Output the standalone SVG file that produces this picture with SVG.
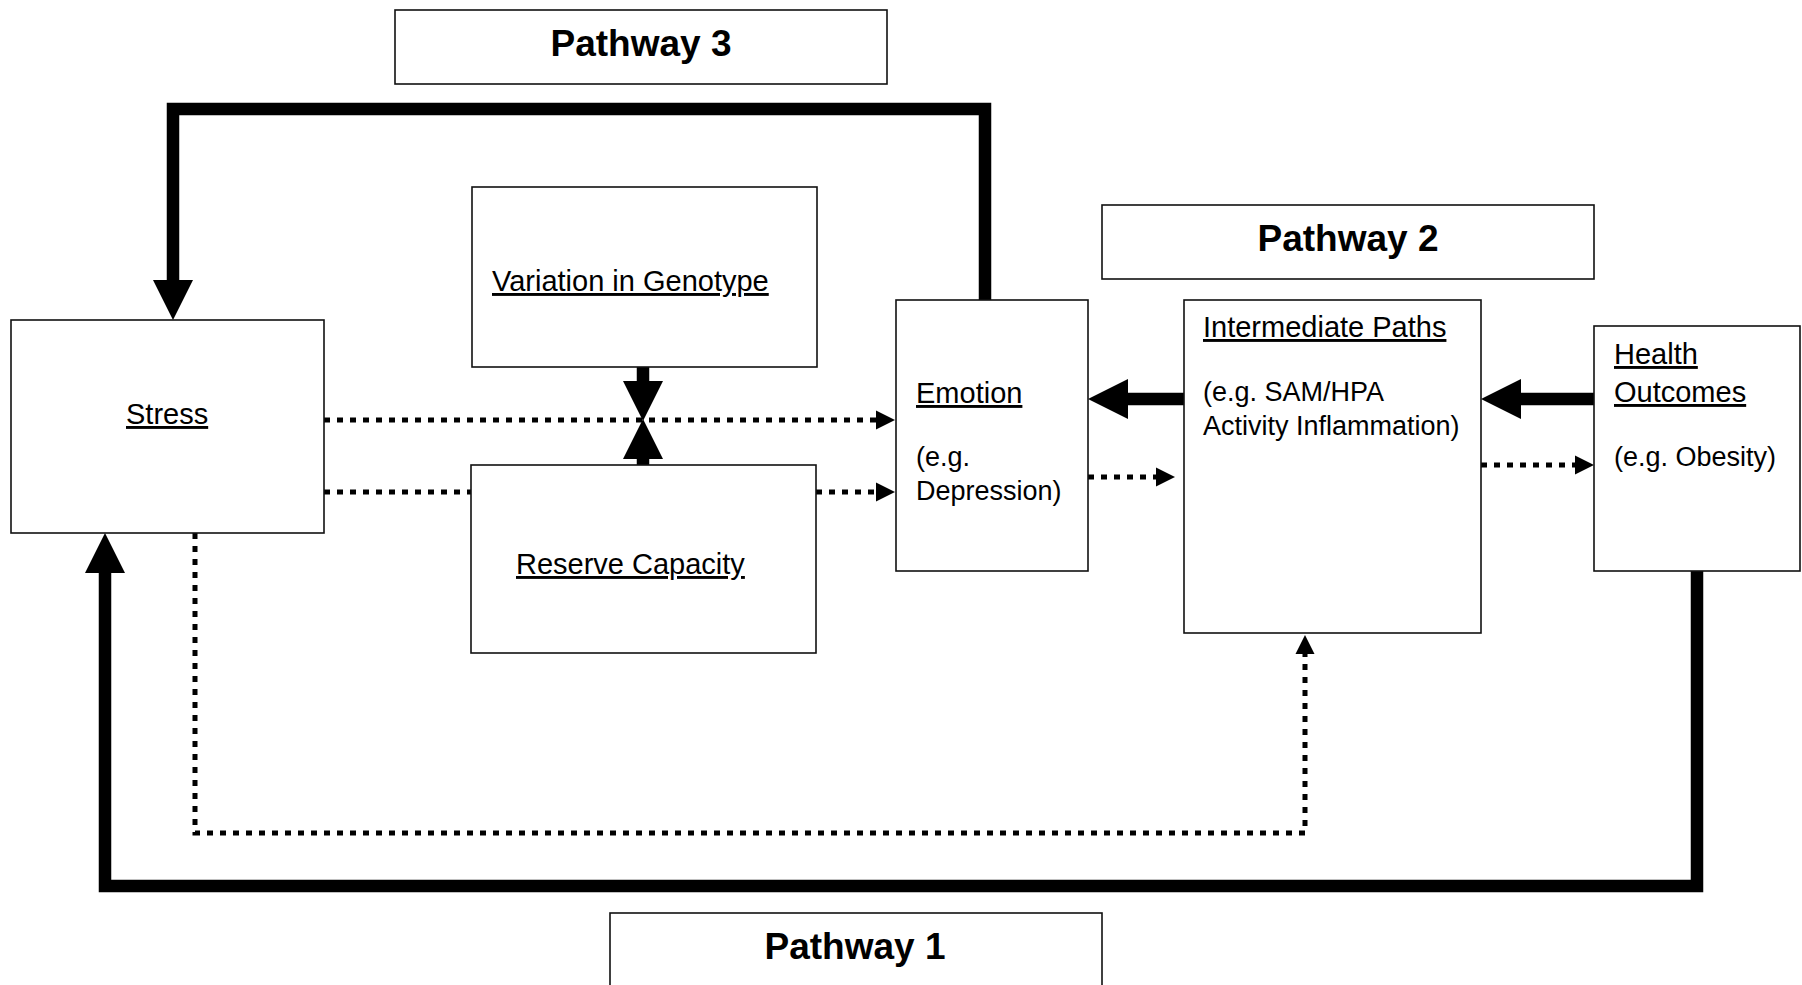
<svg xmlns="http://www.w3.org/2000/svg" width="1802" height="985" viewBox="0 0 1802 985">
<style>
.box{fill:#fff;stroke:#111;stroke-width:1.6}
.t{font-family:"Liberation Sans",Arial,sans-serif;font-size:27px;fill:#000}
.u{text-decoration:underline;font-size:29px}
.h{font-family:"Liberation Sans",Arial,sans-serif;font-size:37px;font-weight:bold;fill:#000;text-anchor:middle}
.thick{fill:none;stroke:#000;stroke-width:12.5}
.dot{fill:none;stroke:#000;stroke-width:5;stroke-dasharray:6 7}
</style>
<defs>
<marker id="big" markerUnits="userSpaceOnUse" markerWidth="41" markerHeight="41" refX="0" refY="20" orient="auto" overflow="visible">
<path d="M0,0 L40,20 L0,40 Z" fill="#000"/>
</marker>
<marker id="small" markerUnits="userSpaceOnUse" markerWidth="20" markerHeight="20" refX="0" refY="9.5" orient="auto" overflow="visible">
<path d="M0,0 L19,9.5 L0,19 Z" fill="#000"/>
</marker>
</defs>
<g id="connectors">
<path class="thick" d="M985,300 V109 H173 V280" marker-end="url(#big)"/>
<path class="thick" d="M1697,571 V886 H105 V573" marker-end="url(#big)"/>
<path class="thick" d="M643,367 V381" marker-end="url(#big)"/>
<path class="thick" d="M643,466 V459" marker-end="url(#big)"/>
<path class="thick" d="M1184,399 H1128" marker-end="url(#big)"/>
<path class="thick" d="M1594,399 H1521" marker-end="url(#big)"/>
<path class="dot" d="M324,420 H876" marker-end="url(#small)"/>
<path class="dot" d="M324,492 H471"/>
<path class="dot" d="M816,492 H876" marker-end="url(#small)"/>
<path class="dot" d="M1088,477 H1156" marker-end="url(#small)"/>
<path class="dot" d="M1481,465 H1575" marker-end="url(#small)"/>
<path class="dot" d="M195,533 V833 H1305 V654" marker-end="url(#small)"/>
</g>
<g id="pathway3">
<rect class="box" x="395" y="10" width="492" height="74"/>
<text class="h" x="641" y="56">Pathway 3</text>
</g>
<g id="pathway2">
<rect class="box" x="1102" y="205" width="492" height="74"/>
<text class="h" x="1348" y="251">Pathway 2</text>
</g>
<g id="pathway1">
<rect class="box" x="610" y="913" width="492" height="80"/>
<text class="h" x="855" y="959">Pathway 1</text>
</g>
<g id="stress">
<rect class="box" x="11" y="320" width="313" height="213"/>
<text class="t u" x="126" y="424">Stress</text>
</g>
<g id="genotype">
<rect class="box" x="472" y="187" width="345" height="180"/>
<text class="t u" x="492" y="291">Variation in Genotype</text>
</g>
<g id="reserve">
<rect class="box" x="471" y="465" width="345" height="188"/>
<text class="t u" x="516" y="574">Reserve Capacity</text>
</g>
<g id="emotion">
<rect class="box" x="896" y="300" width="192" height="271"/>
<text class="t u" x="916" y="403">Emotion</text>
<text class="t" x="916" y="466">(e.g.</text>
<text class="t" x="916" y="500">Depression)</text>
</g>
<g id="intermediate">
<rect class="box" x="1184" y="300" width="297" height="333"/>
<text class="t u" x="1203" y="337">Intermediate Paths</text>
<text class="t" x="1203" y="401">(e.g. SAM/HPA</text>
<text class="t" x="1203" y="435">Activity Inflammation)</text>
</g>
<g id="health">
<rect class="box" x="1594" y="326" width="206" height="245"/>
<text class="t u" x="1614" y="364">Health</text>
<text class="t u" x="1614" y="402">Outcomes</text>
<text class="t" x="1614" y="466">(e.g. Obesity)</text>
</g>
</svg>
